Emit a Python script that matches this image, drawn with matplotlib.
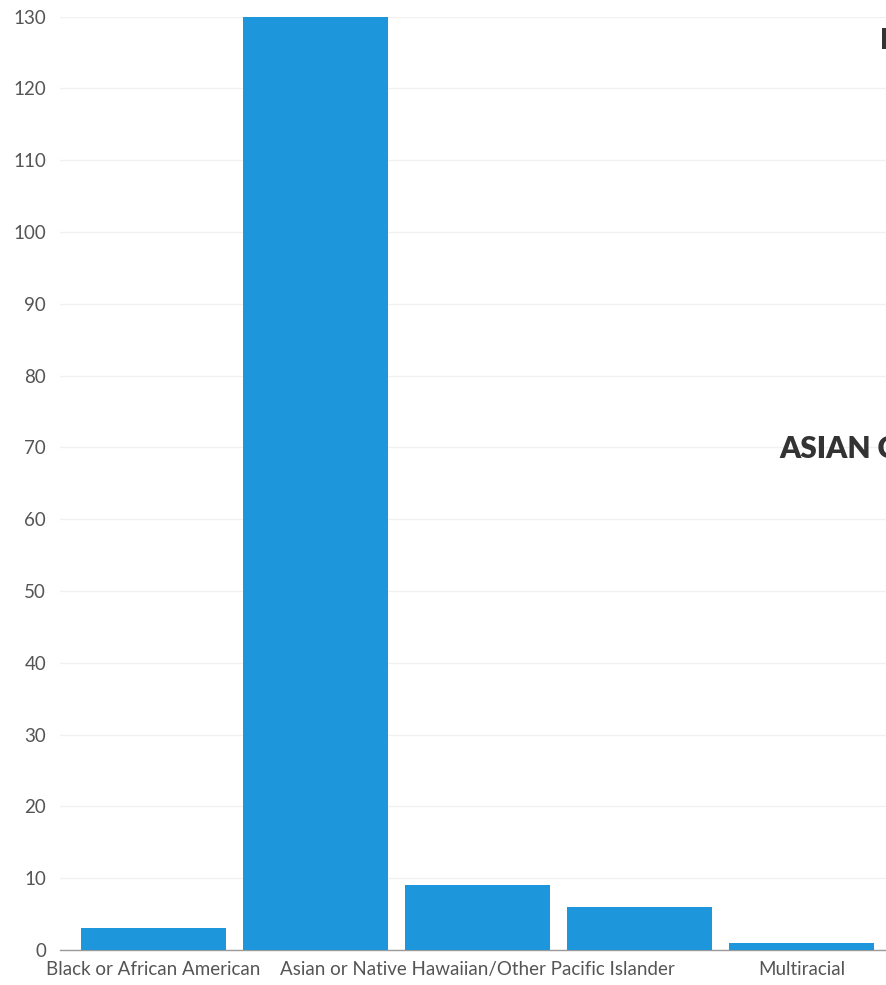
import matplotlib.pyplot as plt
import numpy as np

# categories along the x axis (only every other label is printed in the source)
tick_labels = ['Black or African American', '', 'Asian or Native Hawaiian/Other Pacific Islander', '', 'Multiracial']
counts = [3, 130, 9, 6, 1]
y_ticks = [0, 10, 20, 30, 40, 50, 60, 70, 80, 90, 100, 110, 120, 130]

plt.rcParams['font.family'] = ['Lato', 'DejaVu Sans']

fig = plt.figure(figsize=(8.87, 9.85), dpi=100)
ax = fig.add_axes([60/887, 35/985, 1 - 60/887, (950 - 16.5)/985])

x = np.arange(len(counts))
width = 0.895
ax.bar(x, counts, width, color='#1E96DC', zorder=3)

ax.set_xlim(-0.577, 4.528)
ax.set_ylim(0, 130)
ax.set_yticks(y_ticks)
ax.set_xticks(x)
ax.set_xticklabels(tick_labels)

ax.grid(axis='y', color='#f1f1f1', lw=1, zorder=0)
for s in ['top', 'right', 'left']:
    ax.spines[s].set_visible(False)
ax.spines['bottom'].set_color('#9a9a9a')
ax.spines['bottom'].set_linewidth(1)
ax.tick_params(axis='both', length=0, colors='#555555')
ax.tick_params(axis='y', labelsize=13.5, pad=10)
ax.tick_params(axis='x', labelsize=13.5, pad=8)

# overlaid headings from the page, cut off at the right edge
fig.text(880/887, 1 - 41/985, 'E', fontsize=21, fontweight='heavy', color='#333333', va='center', ha='left')
fig.text(779/887, 1 - 449/985, 'ASIAN C', fontsize=21.5, fontweight='heavy', color='#333333', va='center', ha='left')

fig.savefig('out.png', dpi=100)
